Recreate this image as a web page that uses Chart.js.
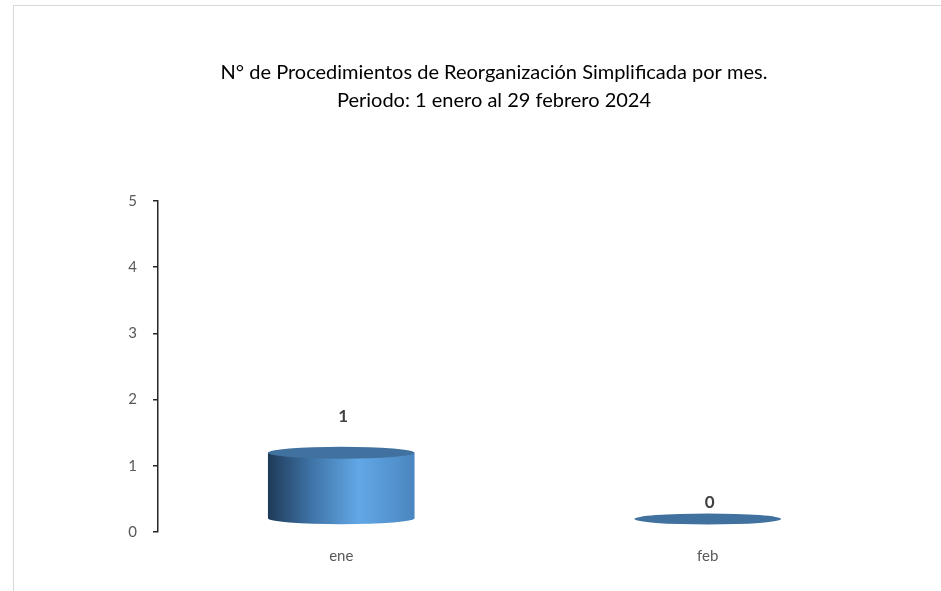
<!DOCTYPE html>
<html>
<head>
<meta charset="utf-8">
<script src="https://cdn.jsdelivr.net/npm/chart.js@4"></script>
<style>
  html, body { margin: 0; padding: 0; background: #fff; }
  #wrap { position: relative; width: 941px; height: 591px; }
  #frame { position: absolute; left: 13px; top: 5px; width: 940px; height: 600px;
           border-left: 1px solid #d9d9d9; border-top: 1px solid #d9d9d9; box-sizing: border-box; }
  canvas { position: absolute; left: 0; top: 0; }
</style>
</head>
<body>
<div id="wrap">
  <div id="frame"></div>
  <canvas id="c" width="941" height="591"></canvas>
</div>
<script>
const titleLines = ["N° de Procedimientos de Reorganización Simplificada por mes.", "Periodo: 1 enero al 29 febrero 2024"];
const categories = ["ene", "feb"];
const values = [1, 0];
const yTicks = [0, 1, 2, 3, 4, 5];

const DEPTH = 13;   // 3D lift of the cylinder base above the axis zero
const RY = 6;       // ellipse half-height

const cylinderPlugin = {
  id: 'cylinders',
  afterDatasetsDraw(chart) {
    const ctx = chart.ctx;
    const meta = chart.getDatasetMeta(0);
    meta.data.forEach((el, i) => {
      const p = el.getProps(['x', 'y', 'base', 'width'], true);
      const rx = p.width / 2;
      const top = p.y - DEPTH;
      const bot = p.base - DEPTH;
      const left = p.x - rx;
      ctx.save();
      if (bot - top > 0.5) {
        const g = ctx.createLinearGradient(left, 0, left + p.width, 0);
        g.addColorStop(0, '#1f3a58');
        g.addColorStop(0.3, '#3f74a8');
        g.addColorStop(0.62, '#62a8e6');
        g.addColorStop(1, '#4a86c0');
        ctx.fillStyle = g;
        ctx.beginPath();
        ctx.ellipse(p.x, bot, rx, RY, 0, 0, Math.PI);
        ctx.lineTo(left, top);
        ctx.lineTo(left + p.width, top);
        ctx.closePath();
        ctx.fill();
        ctx.fillStyle = '#41729f';
        ctx.beginPath();
        ctx.ellipse(p.x, top, rx, RY, 0, 0, Math.PI * 2);
        ctx.fill();
      } else {
        ctx.fillStyle = '#41729f';
        ctx.beginPath();
        ctx.ellipse(p.x, top, rx, RY - 0.5, 0, 0, Math.PI * 2);
        ctx.fill();
      }
      ctx.fillStyle = '#404040';
      ctx.font = 'bold 17px Lato, "Open Sans", sans-serif';
      ctx.textAlign = 'center';
      ctx.textBaseline = 'middle';
      const ly = (bot - top > 0.5) ? top - 36 : top - 16;
      ctx.fillText(String(values[i]), p.x + 2, ly);
      ctx.restore();
    });
  }
};

new Chart(document.getElementById('c'), {
  type: 'bar',
  data: {
    labels: categories,
    datasets: [{
      data: values,
      backgroundColor: 'rgba(0,0,0,0)',
      borderWidth: 0,
      barPercentage: 0.5,
      categoryPercentage: 0.8
    }]
  },
  options: {
    responsive: false,
    animation: false,
    events: [],
    layout: { padding: { left: 97, right: 50, top: 0, bottom: 19 } },
    plugins: {
      legend: { display: false },
      tooltip: { enabled: false },
      title: {
        display: true,
        text: titleLines,
        color: '#000',
        font: { family: 'Lato, "Open Sans", sans-serif', size: 20, weight: 'normal', lineHeight: 1.4 },
        padding: { top: 59, bottom: 86 }
      }
    },
    scales: {
      x: {
        grid: { display: false },
        border: { display: false },
        ticks: { color: '#595959', font: { family: 'Lato, "Open Sans", sans-serif', size: 15 }, padding: 7 }
      },
      y: {
        min: 0, max: 5,
        afterBuildTicks(scale) { scale.ticks = yTicks.map(v => ({ value: v })); },
        afterFit(scale) { scale.width = 61; },
        grid: { drawOnChartArea: false, drawTicks: true, tickLength: 5, color: '#262626', lineWidth: 1.5 },
        border: { display: true, color: '#262626', width: 1.5 },
        ticks: { color: '#595959', font: { family: 'Lato, "Open Sans", sans-serif', size: 15 }, padding: 16 }
      }
    }
  },
  plugins: [cylinderPlugin]
});
</script>
</body>
</html>
